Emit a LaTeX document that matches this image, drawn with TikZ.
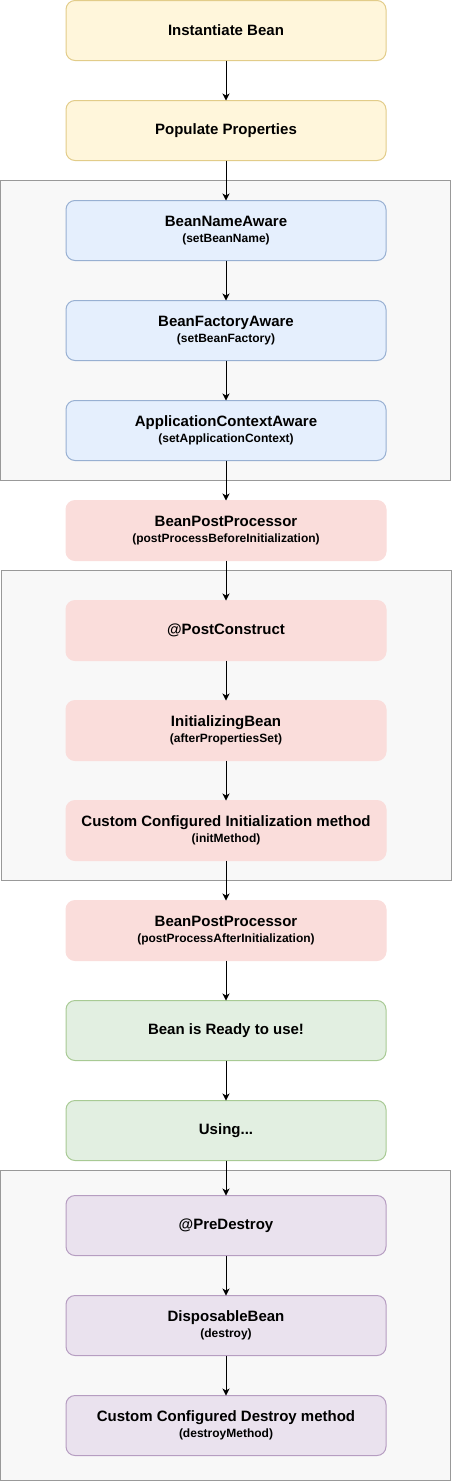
\documentclass[tikz,border=0pt]{standalone}
\usepackage{fontspec}
\setmainfont{Liberation Sans}
\usetikzlibrary{positioning,arrows.meta}
\definecolor{createfill}{HTML}{FFF6DB}
\definecolor{createline}{HTML}{E2CC89}
\definecolor{awarefill}{HTML}{E5EFFD}
\definecolor{awareline}{HTML}{98B0D2}
\definecolor{initfill}{HTML}{FADDDB}
\definecolor{readyfill}{HTML}{E2EFE1}
\definecolor{readyline}{HTML}{A8CA94}
\definecolor{destroyfill}{HTML}{EAE2EE}
\definecolor{destroyline}{HTML}{B69DC1}
\definecolor{groupfill}{HTML}{F8F8F8}
\definecolor{groupline}{HTML}{999999}
\tikzset{
    stagenode/.style={rectangle, rounded corners=9pt, align=center, inner sep=0pt, outer sep=0pt,
        minimum width=320pt, minimum height=60pt, line width=1pt, font=\bfseries\fontsize{15}{15.5}\selectfont},
    % Creation steps
    node_create/.style = {stagenode, draw=createline, fill=createfill},
    % Aware interfaces
    node_aware/.style = {stagenode, draw=awareline, fill=awarefill},
    % Initialization steps
    node_init/.style = {stagenode, draw=initfill, fill=initfill},
    % Ready to use
    node_ready/.style = {stagenode, draw=readyline, fill=readyfill},
    % Destruction steps
    node_destroy/.style = {stagenode, draw=destroyline, fill=destroyfill},
    group/.style = {draw=groupline, fill=groupfill, line width=1pt},
    flow/.style = {-{Stealth[length=7pt, width=7pt, inset=2pt]}, line width=1pt}
}
\newcommand{\callname}[1]{\\{\fontsize{12}{14}\selectfont (#1)}}

\begin{document}
\begin{tikzpicture}[x=1pt, y=1pt, node distance=40pt]
    \useasboundingbox (0,0) rectangle (452,-1481);

    % groups
    \draw[group] (0.5,-180.5) rectangle (450.5,-480.5);
    \draw[group] (1.5,-570.5) rectangle (451.5,-880.5);
    \draw[group] (0.5,-1170.5) rectangle (450.5,-1480.5);

    \node[node_create] (inst) at (226,-30.5) {Instantiate Bean};
    \node[node_create, below=of inst] (populate) {Populate Properties};
    \node[node_aware, below=of populate] (nameaware) {BeanNameAware\callname{setBeanName}};
    \node[node_aware, below=of nameaware] (factoryaware) {BeanFactoryAware\callname{setBeanFactory}};
    \node[node_aware, below=of factoryaware] (ctxaware) {ApplicationContextAware\callname{setApplicationContext}};
    \node[node_init, below=of ctxaware] (prebpp) {BeanPostProcessor\callname{postProcessBeforeInitialization}};
    \node[node_init, below=of prebpp] (postcon) {@PostConstruct};
    \node[node_init, below=of postcon] (initbean) {InitializingBean\callname{afterPropertiesSet}};
    \node[node_init, below=of initbean] (initmethod) {Custom Configured Initialization method\callname{initMethod}};
    \node[node_init, below=of initmethod] (postbpp) {BeanPostProcessor\callname{postProcessAfterInitialization}};
    \node[node_ready, below=of postbpp] (ready) {Bean is Ready to use!};
    \node[node_ready, below=of ready] (using) {Using...};
    \node[node_destroy, below=35pt of using] (predestroy) {@PreDestroy};
    \node[node_destroy, below=of predestroy] (disposable) {DisposableBean\callname{destroy}};
    \node[node_destroy, below=of disposable] (destroymethod) {Custom Configured Destroy method\callname{destroyMethod}};

    \foreach \from/\to in {inst/populate, populate/nameaware, nameaware/factoryaware, factoryaware/ctxaware,
        ctxaware/prebpp, prebpp/postcon, postcon/initbean, initbean/initmethod, initmethod/postbpp,
        postbpp/ready, ready/using, using/predestroy, predestroy/disposable, disposable/destroymethod}
        \draw[flow] (\from) -- (\to);
\end{tikzpicture}
\end{document}
